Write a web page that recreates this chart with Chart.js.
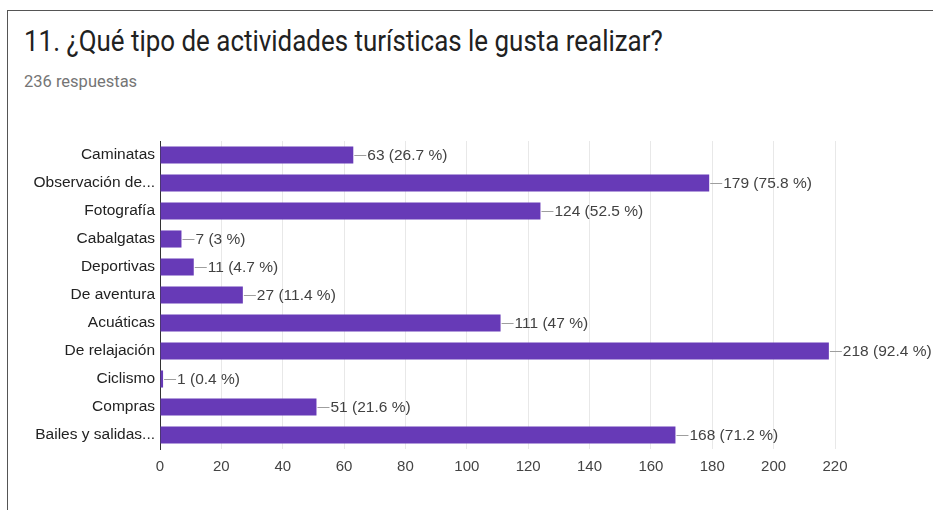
<!DOCTYPE html>
<html>
<head>
<meta charset="utf-8">
<script src="https://cdn.jsdelivr.net/npm/chart.js@4/dist/chart.umd.min.js"></script>
<style>
  html, body { margin: 0; padding: 0; background: #fff; overflow: hidden; }
  #wrap { position: relative; width: 933px; height: 510px; }
  #card { position: absolute; left: 7px; top: 10px; width: 960px; height: 540px;
          border: 1px solid #555; border-right: none; border-bottom: none; box-sizing: border-box; }
  #titre { position: absolute; left: 24px; top: 24px; font-family: Roboto, sans-serif; font-size: 29px;
           color: #212121; white-space: nowrap; transform-origin: left top; }
  #sous-titre { position: absolute; left: 24px; top: 72px; font-family: Roboto, sans-serif; font-size: 16.5px;
                color: #757575; white-space: nowrap; }
  canvas { position: absolute; left: 0; top: 0; }
</style>
</head>
<body>
<div id="wrap">
  <div id="card"></div>
  <div id="titre">11. ¿Qué tipo de actividades turísticas le gusta realizar?</div>
  <div id="sous-titre">236 respuestas</div>
  <canvas id="graphique" width="933" height="510"></canvas>
</div>
<script>
// Données
const categories = ["Caminatas", "Observación de...", "Fotografía", "Cabalgatas", "Deportivas",
  "De aventura", "Acuáticas", "De relajación", "Ciclismo", "Compras", "Bailes y salidas..."];
const reponses = [63, 179, 124, 7, 11, 27, 111, 218, 1, 51, 168];
const pourcentages = ["26.7", "75.8", "52.5", "3", "4.7", "11.4", "47", "92.4", "0.4", "21.6", "71.2"];
const ticksX = [0, 20, 40, 60, 80, 100, 120, 140, 160, 180, 200, 220];

const VIOLET = "#673ab7";
const POLICE = "'Liberation Sans', Arial, sans-serif";

// Le titre de l'image est plus étroit : on le resserre à la bonne largeur
const titre = document.getElementById("titre");
titre.style.transform = "scaleX(" + (639 / titre.offsetWidth) + ")";

// Étiquettes "—63 (26.7 %)" au bout des barres
const etiquettes = {
  id: "etiquettes",
  afterDatasetsDraw(chart) {
    const ctx = chart.ctx;
    const meta = chart.getDatasetMeta(0);
    ctx.save();
    ctx.font = "15.5px " + POLICE;
    ctx.textBaseline = "middle";
    meta.data.forEach(function (bar, i) {
      ctx.strokeStyle = "#9e9e9e";
      ctx.lineWidth = 1;
      ctx.beginPath();
      ctx.moveTo(bar.x + 1, Math.round(bar.y) + 0.5);
      ctx.lineTo(bar.x + 13, Math.round(bar.y) + 0.5);
      ctx.stroke();
      ctx.fillStyle = "#424242";
      ctx.fillText(reponses[i] + " (" + pourcentages[i] + " %)", bar.x + 14, bar.y + 1);
    });
    ctx.restore();
  }
};

const config = {
  type: "bar",
  data: {
    labels: categories,
    datasets: [{
      data: reponses,
      backgroundColor: VIOLET,
      barPercentage: 0.61,
      categoryPercentage: 1
    }]
  },
  options: {
    indexAxis: "y",
    responsive: false,
    animation: false,
    layout: { padding: { left: 0, top: 141, right: 98, bottom: 31 } },
    plugins: { legend: { display: false }, tooltip: { enabled: false } },
    scales: {
      x: {
        min: 0, max: 220,
        afterFit: function (s) { s.height = 30; },
        afterBuildTicks: function (s) { s.ticks = ticksX.map(v => ({ value: v })); },
        grid: { color: "#e8e8e8", drawTicks: false },
        border: { display: false },
        ticks: { padding: 9, color: "#444", font: { family: POLICE, size: 15 } }
      },
      y: {
        afterFit: function (s) { s.width = 160; },
        grid: { display: false, drawTicks: false },
        border: { display: true, color: "#333", width: 1 },
        ticks: { padding: 5, color: "#222", font: { family: POLICE, size: 15.5 } }
      }
    }
  },
  plugins: [etiquettes]
};

new Chart(document.getElementById("graphique"), config);
</script>
</body>
</html>
